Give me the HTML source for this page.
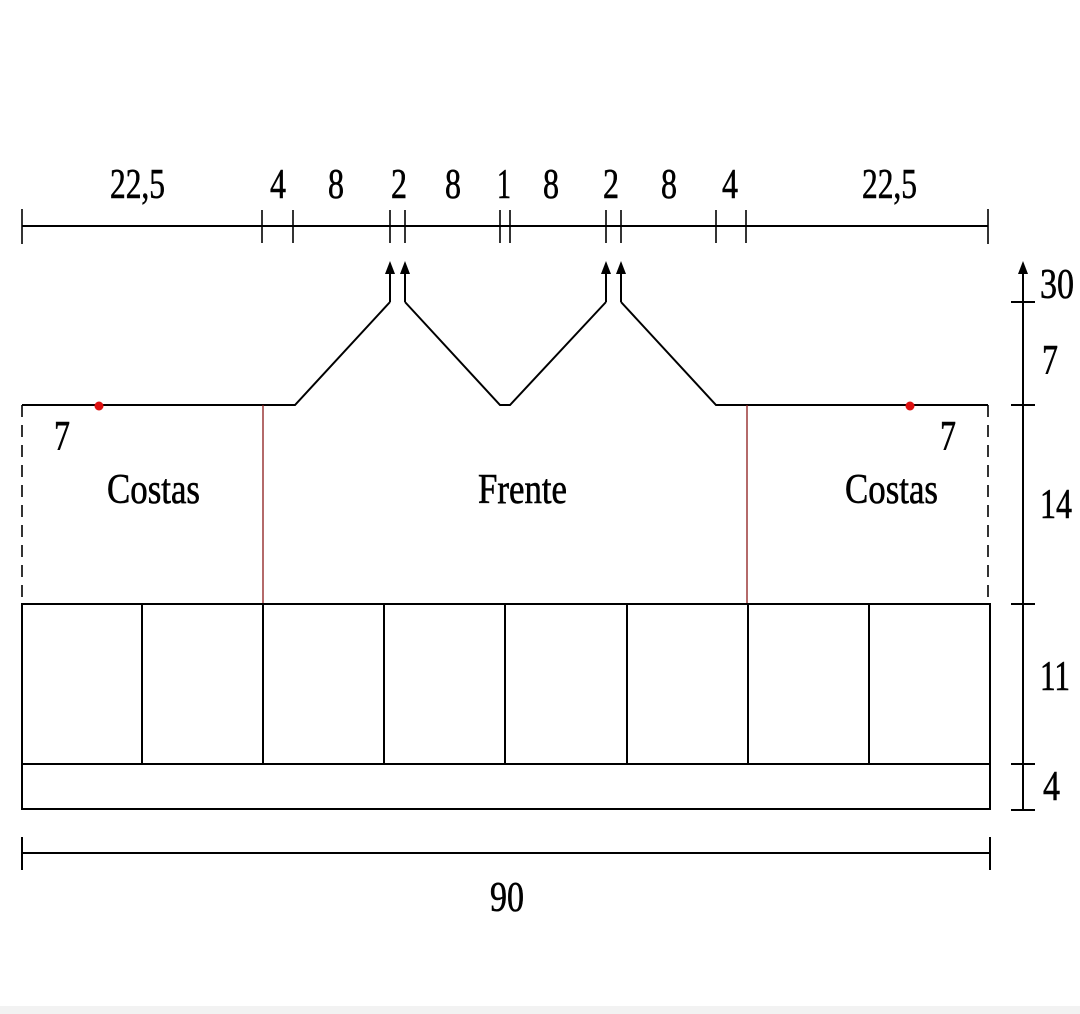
<!DOCTYPE html>
<html><head><meta charset="utf-8"><style>
html,body{margin:0;padding:0;background:#fff}
svg{display:block}
text{font-family:"Liberation Serif",serif;fill:#000;stroke:#000;stroke-width:0.6}
</style></head><body>
<svg width="1080" height="1014" viewBox="0 0 1080 1014" xmlns="http://www.w3.org/2000/svg">
<g stroke="#000" stroke-width="2" fill="none">
<line x1="22" y1="226" x2="988" y2="226"/>
<g stroke-width="1.6">
<line x1="22" y1="209" x2="22" y2="244"/><line x1="262" y1="210" x2="262" y2="243"/><line x1="293" y1="210" x2="293" y2="243"/>
<line x1="390" y1="210" x2="390" y2="243"/><line x1="405" y1="210" x2="405" y2="243"/><line x1="500" y1="210" x2="500" y2="243"/>
<line x1="510" y1="210" x2="510" y2="243"/><line x1="606" y1="210" x2="606" y2="243"/><line x1="621" y1="210" x2="621" y2="243"/>
<line x1="716" y1="210" x2="716" y2="243"/><line x1="746" y1="210" x2="746" y2="243"/><line x1="988" y1="209" x2="988" y2="244"/>
</g>
<line x1="390" y1="302" x2="390" y2="272"/><line x1="405" y1="302" x2="405" y2="272"/>
<line x1="606" y1="302" x2="606" y2="272"/><line x1="621" y1="302" x2="621" y2="272"/>
<polyline points="22,405 295,405 390,302"/>
<polyline points="405,302 500,405 510,405 606,302"/>
<polyline points="621,302 716,405 988,405"/>
<line x1="22" y1="405" x2="22" y2="604" stroke-dasharray="12,8" stroke-width="1.6"/>
<line x1="988" y1="405" x2="988" y2="604" stroke-dasharray="12,8" stroke-width="1.6"/>
<line x1="263" y1="405" x2="263" y2="604" stroke="#8b1a1a" stroke-width="1.3"/>
<line x1="747" y1="405" x2="747" y2="604" stroke="#8b1a1a" stroke-width="1.3"/>
<rect x="22" y="604" width="968" height="205"/>
<line x1="22" y1="764" x2="990" y2="764"/>
<line x1="142" y1="604" x2="142" y2="764"/><line x1="263" y1="604" x2="263" y2="764"/>
<line x1="384" y1="604" x2="384" y2="764"/><line x1="505" y1="604" x2="505" y2="764"/>
<line x1="627" y1="604" x2="627" y2="764"/><line x1="748" y1="604" x2="748" y2="764"/>
<line x1="869" y1="604" x2="869" y2="764"/>
<line x1="1023" y1="272" x2="1023" y2="810"/>
<line x1="1011" y1="302" x2="1035" y2="302"/><line x1="1011" y1="405" x2="1035" y2="405"/>
<line x1="1011" y1="604" x2="1035" y2="604"/><line x1="1011" y1="764" x2="1035" y2="764"/>
<line x1="1011" y1="810" x2="1035" y2="810"/>
<line x1="22" y1="853" x2="990" y2="853"/>
<line x1="22" y1="837" x2="22" y2="870"/><line x1="990" y1="837" x2="990" y2="870"/>
</g>
<g fill="#000">
<path d="M385,274 L390,261 L395,274 Z"/><path d="M400,274 L405,261 L410,274 Z"/>
<path d="M601,274 L606,261 L611,274 Z"/><path d="M616,274 L621,261 L626,274 Z"/>
<path d="M1018,274 L1023,261 L1028,274 Z"/>
</g>
<circle cx="99" cy="406" r="4.5" fill="#d11"/>
<circle cx="910" cy="406" r="4.5" fill="#d11"/>
<g font-size="42">
<text x="110" y="198" textLength="55" lengthAdjust="spacingAndGlyphs">22,5</text>
<text x="270" y="198" textLength="16" lengthAdjust="spacingAndGlyphs">4</text>
<text x="328" y="198" textLength="16" lengthAdjust="spacingAndGlyphs">8</text>
<text x="391" y="198" textLength="16" lengthAdjust="spacingAndGlyphs">2</text>
<text x="445" y="198" textLength="16" lengthAdjust="spacingAndGlyphs">8</text>
<text x="497" y="198" textLength="14" lengthAdjust="spacingAndGlyphs">1</text>
<text x="543" y="198" textLength="16" lengthAdjust="spacingAndGlyphs">8</text>
<text x="603" y="198" textLength="16" lengthAdjust="spacingAndGlyphs">2</text>
<text x="661" y="198" textLength="16" lengthAdjust="spacingAndGlyphs">8</text>
<text x="722" y="198" textLength="16" lengthAdjust="spacingAndGlyphs">4</text>
<text x="862" y="198" textLength="55" lengthAdjust="spacingAndGlyphs">22,5</text>
<text x="1040" y="298" textLength="34" lengthAdjust="spacingAndGlyphs">30</text>
<text x="1042" y="374" textLength="16" lengthAdjust="spacingAndGlyphs">7</text>
<text x="1040" y="518" textLength="32" lengthAdjust="spacingAndGlyphs">14</text>
<text x="1040" y="690" textLength="30" lengthAdjust="spacingAndGlyphs">11</text>
<text x="1043" y="800" textLength="17" lengthAdjust="spacingAndGlyphs">4</text>
<text x="490" y="911" textLength="34" lengthAdjust="spacingAndGlyphs">90</text>
<text x="54" y="450" textLength="16" lengthAdjust="spacingAndGlyphs">7</text>
<text x="940" y="450" textLength="16" lengthAdjust="spacingAndGlyphs">7</text>
<text x="107" y="503" textLength="93" lengthAdjust="spacingAndGlyphs">Costas</text>
<text x="478" y="503" textLength="89" lengthAdjust="spacingAndGlyphs">Frente</text>
<text x="845" y="503" textLength="93" lengthAdjust="spacingAndGlyphs">Costas</text>
</g>
<rect x="0" y="1006" width="1080" height="8" fill="#f2f2f2"/>
</svg>
</body></html>
